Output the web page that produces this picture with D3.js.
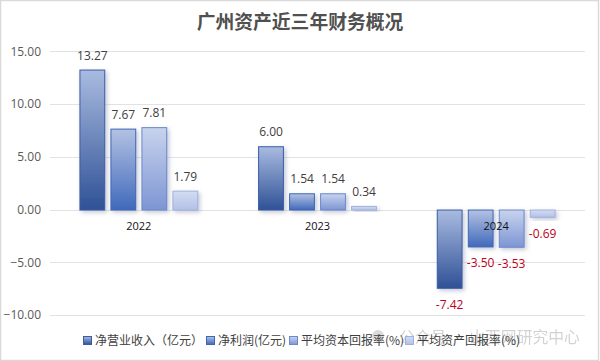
<!DOCTYPE html>
<html>
<head>
<meta charset="utf-8">
<script src="https://cdn.jsdelivr.net/npm/d3@7/dist/d3.min.js"></script>
<style>
    html, body { margin: 0; padding: 0; background: #fff; }
    svg { display: block; }
    text { font-family: "Open Sans", "Noto Sans CJK SC", sans-serif; }
    .cjk { font-family: "Noto Sans CJK SC", sans-serif; }
    .axis path, .axis line { display: none; }
</style>
</head>
<body>
<div id="chart"></div>
<script>
// data
const years = ["2022", "2023", "2024"];
const seriesNames = ["净营业收入（亿元）", "净利润(亿元)", "平均资本回报率(%)", "平均资产回报率(%)"];
const revenue = [13.27, 6.00, -7.42];
const profit = [7.67, 1.54, -3.50];
const roe = [7.81, 1.54, -3.53];
const roa = [1.79, 0.34, -0.69];
const allSeries = [revenue, profit, roe, roa];
const yTicks = [15, 10, 5, 0, -5, -10];

const chartTitle = "广州资产近三年财务概况";
const watermark = "公众号 · 山西网研究中心";

// fill stops top -> bottom, stroke per series
const barColors = [
    {top: "#a9bbe0", bottom: "#2f5196", stroke: "#3a5ca8"},
    {top: "#b3c2e3", bottom: "#4069bb", stroke: "#3f66b5"},
    {top: "#c8d3ee", bottom: "#7d95d3", stroke: "#6c88cc"},
    {top: "#d3dcf2", bottom: "#b3c1e6", stroke: "#9fb1de"}
];
const width = 600, height = 361;

const svg = d3.select("#chart").append("svg")
    .attr("width", width)
    .attr("height", height);

const defs = svg.append("defs");
barColors.forEach((c, i) => {
    const grad = defs.append("linearGradient")
        .attr("id", "grad" + i)
        .attr("x1", 0).attr("y1", 0).attr("x2", 0).attr("y2", 1);
    grad.append("stop").attr("offset", "0%").attr("stop-color", c.top);
    grad.append("stop").attr("offset", "100%").attr("stop-color", c.bottom);
});

const shadow = defs.append("filter").attr("id", "barShadow")
    .attr("x", "-30%").attr("y", "-30%").attr("width", "170%").attr("height", "170%");
shadow.append("feDropShadow")
    .attr("dx", 2).attr("dy", 2).attr("stdDeviation", 2)
    .attr("flood-color", "#8a94ad").attr("flood-opacity", 0.5);

// frame
svg.append("rect")
    .attr("x", 0.5).attr("y", 0.5)
    .attr("width", 598).attr("height", 360)
    .attr("fill", "#fff")
    .attr("stroke", "#d9d9d9")
    .attr("stroke-width", 1.5);

// scales
const x0 = d3.scaleBand().domain(years).range([49.5, 585.5]);
const x1 = d3.scaleBand().domain(d3.range(4)).range([-62, 62]).paddingInner(0.2).paddingOuter(0.1);
const y = d3.scaleLinear().domain([-10, 15]).range([315, 51.3]);

// grid
svg.append("g").selectAll("line")
    .data(yTicks)
    .join("line")
    .attr("x1", 50).attr("x2", 585)
    .attr("y1", d => Math.round(y(d)) + 0.5).attr("y2", d => Math.round(y(d)) + 0.5)
    .attr("stroke", "#e2e2e2")
    .attr("stroke-width", 1);

// y axis
svg.append("g")
    .attr("class", "axis")
    .attr("transform", "translate(49,0)")
    .call(d3.axisLeft(y).tickValues(yTicks).tickFormat(d3.format(".2f")).tickSize(0).tickPadding(8))
    .call(g => g.selectAll("text").attr("font-size", 12).attr("fill", "#595959")
        .style("font-family", '"Open Sans", sans-serif'));

// bars
const groups = svg.append("g").selectAll("g")
    .data(years)
    .join("g")
    .attr("transform", d => `translate(${x0(d) + x0.bandwidth() / 2},0)`);

groups.each(function(year, yi) {
    const g = d3.select(this);
    allSeries.forEach((vals, si) => {
        const v = vals[yi];
        g.append("rect")
            .attr("x", x1(si))
            .attr("width", x1.bandwidth())
            .attr("y", Math.min(y(v), y(0)) + 0.5)
            .attr("height", Math.abs(y(v) - y(0)))
            .attr("fill", `url(#grad${si})`)
            .attr("stroke", barColors[si].stroke)
            .attr("stroke-width", 1)
            .attr("filter", "url(#barShadow)");
    });
});

// category labels, drawn over the bars
svg.append("g").selectAll("text")
    .data(years)
    .join("text")
    .attr("x", d => x0(d) + x0.bandwidth() / 2)
    .attr("y", y(0) + 20)
    .attr("text-anchor", "middle")
    .attr("font-size", 11)
    .attr("fill", "#111")
    .text(d => d);

// value labels
groups.each(function(year, yi) {
    const g = d3.select(this);
    allSeries.forEach((vals, si) => {
        const v = vals[yi];
        g.append("text")
            .attr("x", x1(si) + x1.bandwidth() / 2)
            .attr("y", v >= 0 ? y(v) - 10 : y(v) + 21)
            .attr("text-anchor", "middle")
            .attr("font-size", 12)
            .attr("fill", v < 0 ? "#c00020" : "#404040")
            .text(v.toFixed(2));
    });
});

// title
svg.append("text")
    .attr("class", "cjk")
    .attr("x", 300)
    .attr("y", 28.5)
    .attr("text-anchor", "middle")
    .attr("font-size", 18.8)
    .attr("font-weight", 700)
    .attr("fill", "#505050")
    .text(chartTitle);

// watermark sits under the legend
const wm = svg.append("g").attr("opacity", 0.35);
wm.append("circle").attr("cx", 378).attr("cy", 336).attr("r", 6).attr("fill", "#999");
wm.append("text")
    .attr("class", "cjk")
    .attr("x", 399)
    .attr("y", 343)
    .attr("font-size", 15.8)
    .attr("fill", "#808080")
    .text(watermark);

// legend
const legendX = [83, 206, 289, 405];
const legend = svg.append("g").selectAll("g")
    .data(seriesNames)
    .join("g")
    .attr("transform", (d, i) => `translate(${legendX[i]},336)`);

legend.append("rect")
    .attr("x", 0.5).attr("y", 0.5)
    .attr("width", 8).attr("height", 8)
    .attr("fill", (d, i) => `url(#grad${i})`)
    .attr("stroke", (d, i) => barColors[i].stroke);

legend.append("text")
    .attr("class", "cjk")
    .attr("x", 12)
    .attr("y", 9)
    .attr("font-size", 12)
    .attr("fill", "#404040")
    .text(d => d);
</script>
</body>
</html>
